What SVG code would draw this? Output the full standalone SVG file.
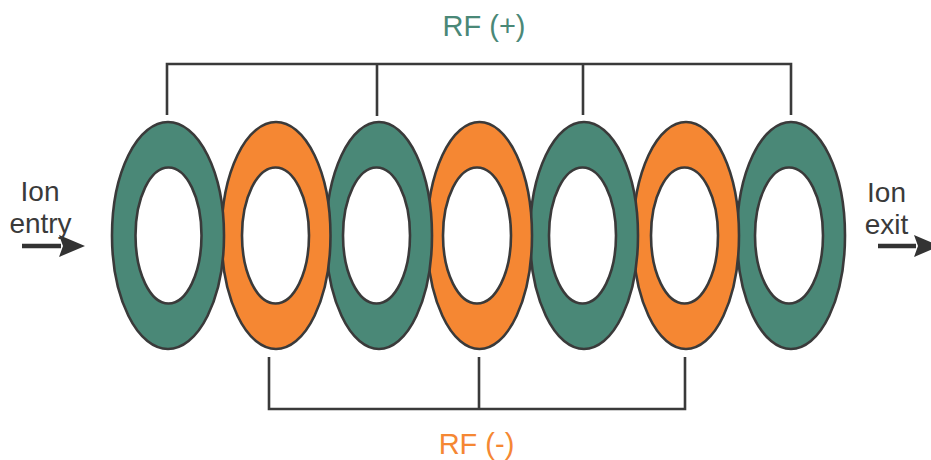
<svg xmlns="http://www.w3.org/2000/svg" width="931" height="460" viewBox="0 0 931 460">
<style>
.g{fill:#4a8877}.o{fill:#f58733}
.r{stroke:#3a3a3a;stroke-width:2.6}
.h{fill:#fff;stroke:#3a3a3a;stroke-width:2.6}
.w{fill:none;stroke:#3a3a3a;stroke-width:2.6}
.a{fill:none;stroke:#333;stroke-width:4.5}
text{font-family:"Liberation Sans",Arial,sans-serif}
.t{font-size:29px;text-anchor:middle}
.l{font-size:28px;fill:#3a3a3a;text-anchor:middle}
</style>
<defs>
<marker id="ah" markerUnits="userSpaceOnUse" markerWidth="26" markerHeight="22" refX="2" refY="11" orient="auto" viewBox="0 0 26 22"><path d="M0 0L26 11L0 22L4 11Z" fill="#333"/></marker>
</defs>
<g id="connectors">
<path class="w" d="M167 115V64H791V115M377 64V116M583 64V115"/>
<path class="w" d="M269 357V409H685V357M479 357V409"/>
<path class="a" d="M22 246H61" marker-end="url(#ah)"/>
<path class="a" d="M878 246H916" marker-end="url(#ah)"/>
</g>
<g id="ring-7"><ellipse class="g r" cx="791" cy="235.500" rx="54" ry="113.500"/><ellipse class="h" cx="789" cy="235.500" rx="34" ry="68"/></g>
<g id="ring-6"><ellipse class="o r" cx="686" cy="235.500" rx="53" ry="113.500"/><ellipse class="h" cx="684.500" cy="235.500" rx="33.500" ry="68"/></g>
<g id="ring-5"><ellipse class="g r" cx="584" cy="235.500" rx="54" ry="113.500"/><ellipse class="h" cx="582.500" cy="235.500" rx="33.500" ry="68"/></g>
<g id="ring-4"><ellipse class="o r" cx="479.500" cy="235.500" rx="52.500" ry="113.500"/><ellipse class="h" cx="477" cy="235.500" rx="34" ry="68"/></g>
<g id="ring-3"><ellipse class="g r" cx="379" cy="235.500" rx="53" ry="113.500"/><ellipse class="h" cx="376.500" cy="235.500" rx="33.500" ry="68"/></g>
<g id="ring-2"><ellipse class="o r" cx="276" cy="235.500" rx="54.500" ry="113.500"/><ellipse class="h" cx="275.500" cy="235.500" rx="33.500" ry="68"/></g>
<g id="ring-1"><ellipse class="g r" cx="168" cy="235.500" rx="56" ry="113.500"/><ellipse class="h" cx="168.500" cy="235.500" rx="33" ry="68"/></g>
<g id="labels">
<text class="t" x="484" y="36" fill="#4a8877">RF (+)</text>
<text class="t" x="476.500" y="454" fill="#f58733">RF (-)</text>
<text class="l" x="40" y="201">Ion</text>
<text class="l" x="40.500" y="233">entry</text>
<text class="l" x="886.500" y="202">Ion</text>
<text class="l" x="886.500" y="234">exit</text>
</g>
</svg>
